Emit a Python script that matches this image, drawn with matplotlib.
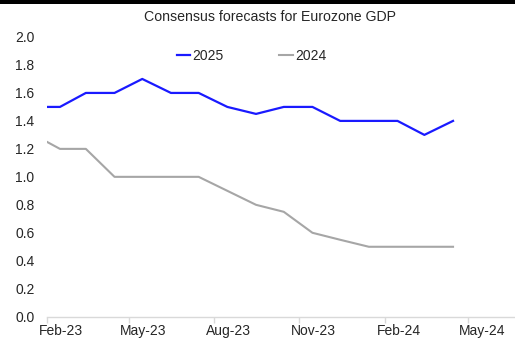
import matplotlib
matplotlib.use("Agg")
import matplotlib.pyplot as plt
import matplotlib.dates as mdates
import matplotlib.ticker as mticker
import pandas as pd

plt.rcParams['font.family'] = ['Liberation Sans', 'DejaVu Sans']

# Survey dates and consensus GDP growth forecasts (%)
dates = pd.to_datetime([
    "2023-02-01", "2023-02-15", "2023-03-15", "2023-04-15", "2023-05-15",
    "2023-06-15", "2023-07-15", "2023-08-15", "2023-09-15", "2023-10-15",
    "2023-11-15", "2023-12-15", "2024-01-15", "2024-02-15", "2024-03-15",
    "2024-04-15",
])
gdp_2025 = [1.5, 1.5, 1.6, 1.6, 1.7, 1.6, 1.6, 1.5, 1.45, 1.5, 1.5, 1.4, 1.4, 1.4, 1.3, 1.4]
gdp_2024 = [1.25, 1.2, 1.2, 1.0, 1.0, 1.0, 1.0, 0.9, 0.8, 0.75, 0.6, 0.55, 0.5, 0.5, 0.5, 0.5]

y_ticks = [0.0, 0.2, 0.4, 0.6, 0.8, 1.0, 1.2, 1.4, 1.6, 1.8, 2.0]

fig = plt.figure(figsize=(5.15, 3.4), dpi=100)
ax = fig.add_axes([47 / 515, 23.3 / 340, 1 - 47 / 515, (316.7 - 37) / 340])

ax.plot(dates, gdp_2025, color="#1a1aff", lw=1.6, label="2025")
ax.plot(dates, gdp_2024, color="#a6a6a6", lw=1.5, label="2024")

ax.set_ylim(0, 2.0)
ax.set_yticks(y_ticks)
ax.set_yticklabels([f"{v:.1f}" for v in y_ticks])
ax.set_xlim(pd.Timestamp("2023-02-01"), pd.Timestamp("2024-06-21"))

# tick marks at the start of each quarter month, labels centred mid-month
ax.xaxis.set_major_locator(mdates.MonthLocator(bymonth=[2, 5, 8, 11], bymonthday=1))
ax.xaxis.set_major_formatter(mticker.NullFormatter())
ax.xaxis.set_minor_locator(mdates.MonthLocator(bymonth=[2, 5, 8, 11], bymonthday=16))
ax.xaxis.set_minor_formatter(mdates.DateFormatter("%b-%y"))

for s in ["top", "right", "left"]:
    ax.spines[s].set_visible(False)
ax.spines["bottom"].set_color("#d9d9d9")
ax.spines["bottom"].set_linewidth(1.0)
ax.tick_params(axis="x", which="major", colors="#d9d9d9", length=4, width=1.0)
ax.tick_params(axis="x", which="minor", length=0, labelcolor="#262626", labelsize=10, pad=5)
ax.tick_params(axis="y", length=0, labelcolor="#262626", labelsize=10, pad=9)
ax.patch.set_visible(False)

leg = ax.legend(loc="center", bbox_to_anchor=(0.437, (340 - 56 - 23.3) / (316.7 - 37)),
                ncol=2, frameon=False, fontsize=10, handlelength=1.0,
                handletextpad=0.15, columnspacing=4.0)
for t in leg.get_texts():
    t.set_color("#262626")

fig.text(270.5 / 515, 1 - 17 / 340, "Consensus forecasts for Eurozone GDP", ha="center",
         va="center", fontsize=10.2, color="#262626")

# black rule along the top edge
fig.add_artist(plt.Rectangle((0, 1 - 3.5 / 340), 1, 3.5 / 340, transform=fig.transFigure,
                             color="black", lw=0))

fig.savefig("out.png", dpi=100)
